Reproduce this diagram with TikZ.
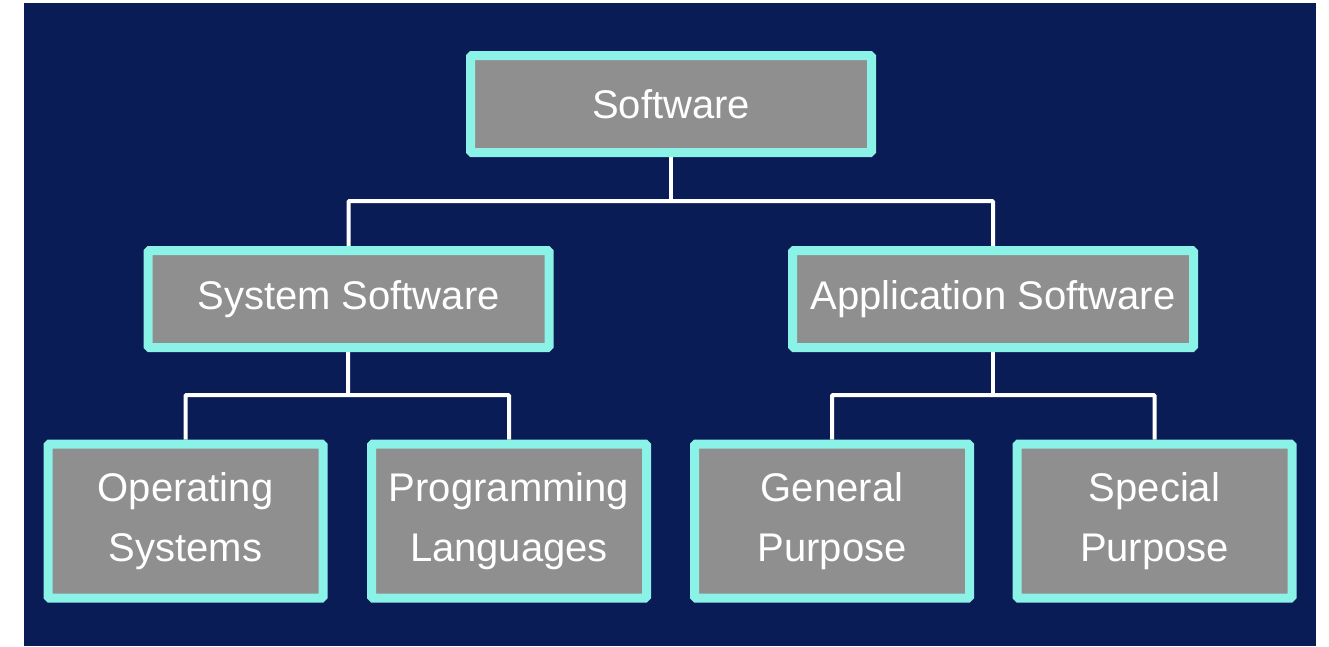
\documentclass[tikz,border=0pt]{standalone}
\usepackage{fontspec}
\setmainfont{Liberation Sans}
\usetikzlibrary{backgrounds}

\definecolor{navy}{RGB}{9,28,85}
\definecolor{aqua}{RGB}{138,242,230}
\definecolor{boxgray}{RGB}{143,143,143}

\tikzset{
    box/.style={rectangle, draw=aqua, line width=9pt, fill=boxgray, rounded corners=1.5pt,
                text=white, align=center, minimum height=97pt,
                font=\fontsize{40}{60}\selectfont},
    topbox/.style={box, minimum width=401pt},
    leafbox/.style={box, minimum width=275pt, minimum height=154pt},
    link/.style={draw=white, line width=4pt, rounded corners=1pt}
}

\begin{document}
\begin{tikzpicture}[x=1pt, y=-1pt]
            % Fix the page size
            \useasboundingbox (0,0) rectangle (1329,646);

            % Draw the root box
            \node[topbox] (sw) at (671,104) {Software};

            % Draw the two middle boxes
            \node[topbox] (sys) at (348.5,299) {System Software};
            \node[topbox] (app) at (993,299) {Application Software};

            % Draw the four leaf boxes
            \node[leafbox] (os) at (185.5,521) {Operating\\Systems};
            \node[leafbox] (pl) at (509,521) {Programming\\Languages};
            \node[leafbox] (gp) at (832,521) {General\\Purpose};
            \node[leafbox] (sp) at (1154.5,521) {Special\\Purpose};

            % Junction points of the connectors
            \coordinate (swjoin) at (671,201);
            \coordinate (sysjoin) at (348,395);
            \coordinate (appjoin) at (993,395);

            \begin{scope}[on background layer]
                % Draw the white margin and the dark background
                \fill[white] (0,0) rectangle (1329,646);
                \fill[navy] (24,3) rectangle (1316,646);

                % Connect root to middle boxes
                \draw[link] (sw) -- (swjoin);
                \draw[link] (sys) |- (swjoin) -| (app);

                % Connect system software to its leaves
                \draw[link] (sys) -- (sysjoin);
                \draw[link] (os) |- (sysjoin) -| (pl);

                % Connect application software to its leaves
                \draw[link] (app) -- (appjoin);
                \draw[link] (gp) |- (appjoin) -| (sp);
            \end{scope}
        \end{tikzpicture}
\end{document}
